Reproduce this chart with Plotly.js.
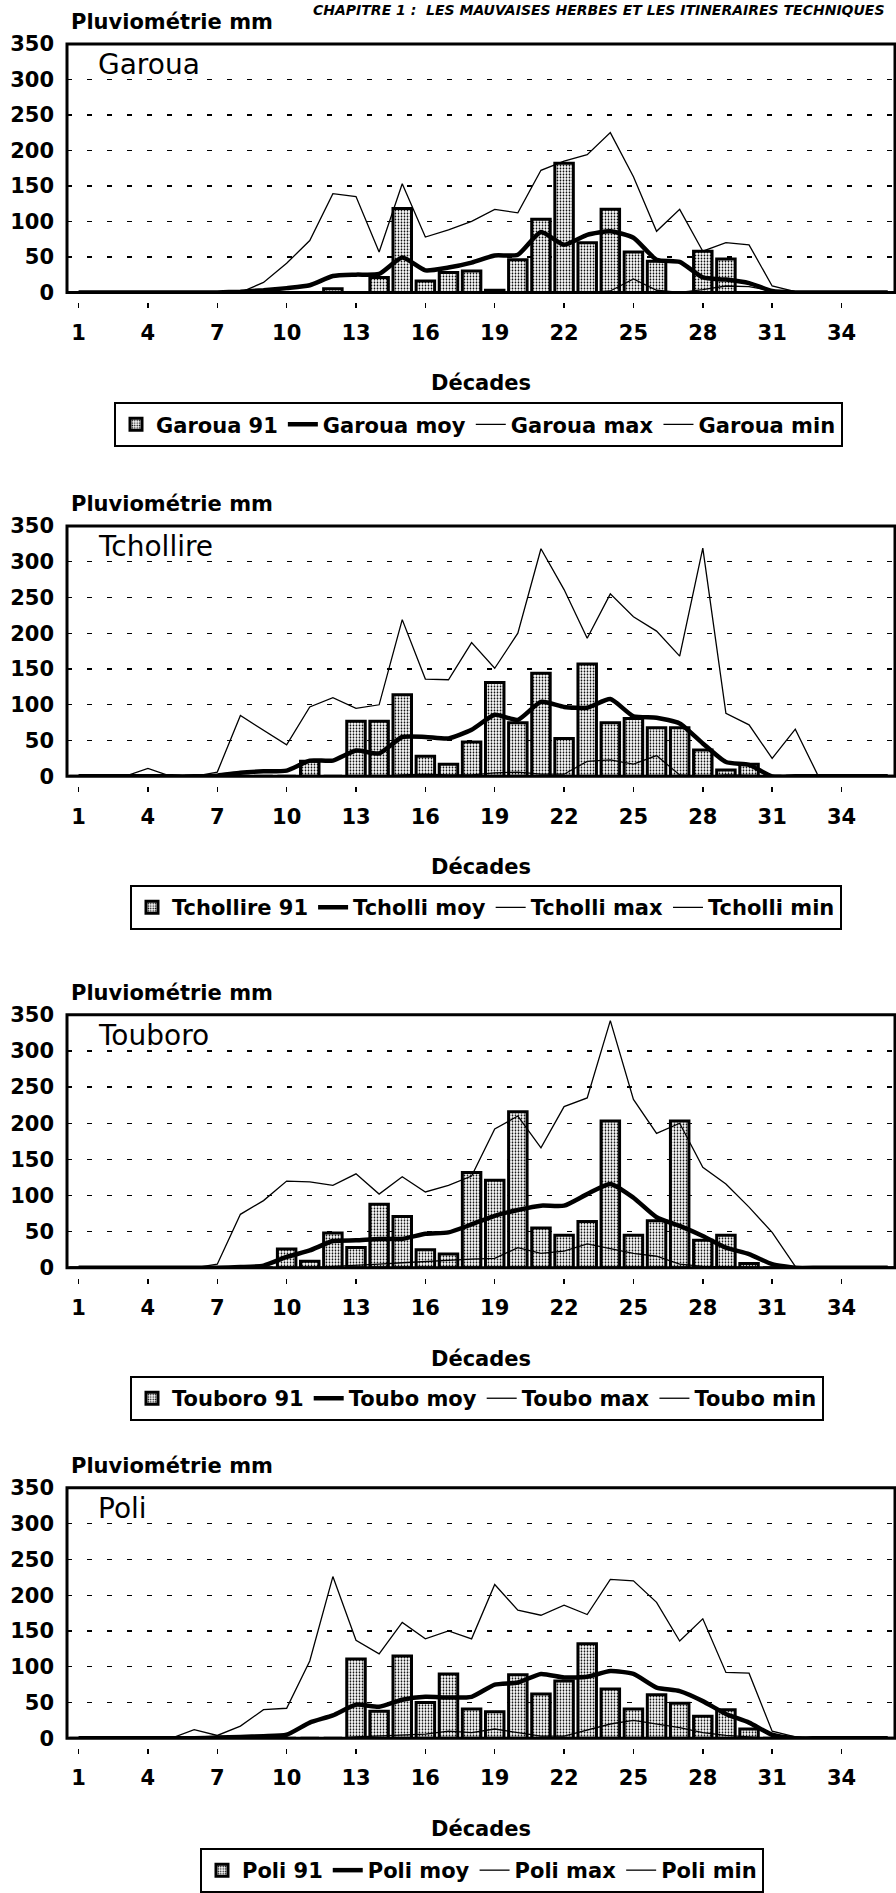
<!DOCTYPE html>
<html><head><meta charset="utf-8">
<script src="https://cdn.plot.ly/plotly-3.0.1.min.js"></script>
<style>html,body{margin:0;padding:0;background:#fff;overflow:hidden;width:896px;height:1893px}#chart{width:896px;height:1893px}</style>
</head><body><div id="chart"></div><script>
// ---------- data ----------
const decades = [1,2,3,4,5,6,7,8,9,10,11,12,13,14,15,16,17,18,19,20,21,22,23,24,25,26,27,28,29,30,31,32,33,34,35,36];
const tickVals = [1,4,7,10,13,16,19,22,25,28,31,34];
const tickText = ['1','4','7','10','13','16','19','22','25','28','31','34'];
const yTickVals = [0,50,100,150,200,250,300,350];
const stations = ['Garoua','Tchollire','Touboro','Poli'];
const names91  = ['Garoua 91','Tchollire 91','Touboro 91','Poli 91'];
const namesMoy = ['Garoua moy','Tcholli moy','Toubo moy','Poli moy'];
const namesMax = ['Garoua max','Tcholli max','Toubo max','Poli max'];
const namesMin = ['Garoua min','Tcholli min','Toubo min','Poli min'];

const garoua91  = [0,0,0,0,0,0,0,0,0,0,0,5,0,21,118,16,28,30,3,46,103,182,70,117,57,44,0,58,47,0,0,0,0,0,0,0];
const garouaMoy = [0,0,0,0,0,0,0,1,3,6,10,23,25,26,49,31,35,42,52,53,85,67,81,86,77,46,43,21,18,13,2,0,0,0,0,0];
const garouaMax = [0,0,0,0,0,0,0,0,14,41,73,139,135,57,153,78,88,100,117,112,172,185,194,225,163,86,117,58,70,67,9,1,0,0,0,0];
const garouaMin = [0,0,0,0,0,0,0,0,0,0,0,0,0,0,0,0,0,0,0,0,0,0,0,2,19,3,0,4,9,8,2,0,0,0,0,0];

const tcholl91  = [0,0,0,0,0,0,0,0,0,0,21,0,77,77,114,28,17,48,131,75,144,53,157,75,81,68,68,37,9,17,0,0,0,0,0,0];
const tchollMoy = [0,0,0,0,0,0,1,5,7,8,22,22,36,32,55,55,53,65,86,79,104,97,96,108,84,82,74,46,20,16,0,0,0,0,0,0];
const tchollMax = [0,0,0,11,0,0,6,85,65,44,97,110,95,100,219,136,135,187,151,200,318,261,193,255,223,203,168,319,88,72,25,66,0,0,0,0];
const tchollMin = [0,0,0,0,0,0,0,0,0,0,0,0,0,0,2,3,2,2,5,6,3,3,21,23,17,29,2,0,2,1,0,0,0,0,0,0];

const toubo91  = [0,0,0,0,0,0,0,0,0,26,9,48,28,88,71,25,19,132,121,216,55,45,64,203,45,65,203,38,45,6,0,0,0,0,0,0];
const touboMoy = [0,0,0,0,0,0,0,1,3,15,24,37,38,40,40,47,49,60,72,80,86,86,102,116,97,70,58,44,28,19,5,0,0,0,0,0];
const touboMax = [0,0,0,0,0,0,5,74,93,120,119,114,130,102,126,105,114,127,192,210,166,223,235,342,233,186,200,139,116,84,49,2,0,0,0,0];
const touboMin = [0,0,0,0,0,0,0,0,0,0,0,2,3,5,7,9,11,12,13,28,20,23,33,26,20,16,5,2,1,0,0,0,0,0,0,0];

const poli91  = [0,0,0,0,0,0,0,0,0,0,0,0,111,38,115,50,90,41,37,89,62,80,132,69,41,61,49,31,40,13,0,0,0,0,0,0];
const poliMoy = [0,0,0,0,0,0,1,2,3,5,22,32,47,44,54,58,57,58,75,78,90,85,86,94,90,71,66,52,34,22,5,0,0,0,0,0];
const poliMax = [0,0,0,0,0,12,4,17,40,42,108,226,137,118,162,139,150,139,215,179,172,186,173,222,220,190,136,167,92,91,10,2,0,0,0,0];
const poliMin = [0,0,0,0,0,0,0,0,0,0,0,0,2,3,4,6,10,8,13,8,3,3,12,20,25,20,15,8,4,2,0,0,0,0,0,0];

const series91  = [garoua91, tcholl91, toubo91, poli91];
const seriesMoy = [garouaMoy, tchollMoy, touboMoy, poliMoy];
const seriesMax = [garouaMax, tchollMax, touboMax, poliMax];
const seriesMin = [garouaMin, tchollMin, touboMin, poliMin];

// ---------- layout geometry (pixels) ----------
const W = 896, H = 1893;
const FONT = 'DejaVu Sans';
const plotLeft = 67, plotRight = 895, bandPx = 23.12;
const geo = [
  {top:44,   bot:293,    legX:114, legTop:403},
  {top:527,  bot:778,    legX:130, legTop:887},
  {top:1017, bot:1270.5, legX:130, legTop:1379},
  {top:1491, bot:1742,   legX:200, legTop:1852}
];
const px = v => v / W;
const py = v => 1 - v / H;

const traces = [];
const layout = {
  width: W, height: H,
  margin: {l:0, r:0, t:0, b:0},
  paper_bgcolor: '#fff', plot_bgcolor: '#fff',
  hovermode: false,
  showlegend: true,
  font: {family: FONT, color: '#000'},
  shapes: [], annotations: []
};

const boldFont = {family: FONT, size: 21, color: '#000', weight: 'bold'};

geo.forEach((g, i) => {
  const s = i === 0 ? '' : String(i + 1);
  const xa = 'x' + s, ya = 'y' + s, lg = 'legend' + s;

  traces.push({
    type: 'bar', x: decades, y: series91[i], name: names91[i],
    xaxis: xa, yaxis: ya, legend: lg, width: 0.8,
    marker: {color: '#fff', line: {color: '#000', width: 3},
      pattern: {shape: '.', fgcolor: '#000', bgcolor: '#fff', size: 3, solidity: 0.28, fillmode: 'replace'}}
  });
  traces.push({
    type: 'scatter', mode: 'lines', x: decades, y: seriesMoy[i], name: namesMoy[i],
    xaxis: xa, yaxis: ya, legend: lg,
    line: {color: '#000', width: 4.5, shape: 'spline', smoothing: 0.55}
  });
  traces.push({
    type: 'scatter', mode: 'lines', x: decades, y: seriesMax[i], name: namesMax[i],
    xaxis: xa, yaxis: ya, legend: lg,
    line: {color: '#000', width: 1.3}
  });
  traces.push({
    type: 'scatter', mode: 'lines', x: decades, y: seriesMin[i], name: namesMin[i],
    xaxis: xa, yaxis: ya, legend: lg,
    line: {color: '#000', width: 1.3}
  });

  layout['xaxis' + s] = {
    domain: [px(plotLeft), px(plotRight)],
    range: [0.5, 0.5 + (plotRight - plotLeft) / bandPx],
    anchor: 'free', position: py(g.bot + 10),
    showline: false, showgrid: false, zeroline: false,
    ticks: 'outside', ticklen: 5, tickwidth: 1.5, tickcolor: '#000',
    tickmode: 'array', tickvals: tickVals, ticktext: tickText,
    tickfont: boldFont, ticklabelstandoff: 6, fixedrange: true
  };
  layout['yaxis' + s] = {
    domain: [py(g.bot), py(g.top)],
    range: [0, 350], anchor: xa,
    tickmode: 'array', tickvals: yTickVals,
    showgrid: true, gridcolor: '#000', gridwidth: 1.3, griddash: '5px,15px',
    zeroline: false, showline: false, ticks: '',
    tickfont: boldFont, ticklabelstandoff: 12, fixedrange: true
  };
  layout[lg] = {
    x: px(g.legX), xanchor: 'left', y: py(g.legTop), yanchor: 'top',
    orientation: 'h', bordercolor: '#000', borderwidth: 2, bgcolor: '#fff',
    font: boldFont, itemwidth: 30, traceorder: 'normal'
  };
  layout.shapes.push({
    type: 'rect', xref: 'paper', yref: 'paper',
    x0: px(plotLeft), x1: px(plotRight), y0: py(g.bot), y1: py(g.top),
    line: {color: '#000', width: 3}, fillcolor: 'rgba(0,0,0,0)', layer: 'above'
  });
  layout.annotations.push({
    text: 'Pluviométrie mm', xref: 'paper', yref: 'paper',
    x: px(69), xanchor: 'left', y: py(g.top - 21.5), yanchor: 'middle',
    showarrow: false, font: boldFont
  });
  layout.annotations.push({
    text: stations[i], xref: 'paper', yref: 'paper',
    x: px(96), xanchor: 'left', y: py(g.top + 21), yanchor: 'middle',
    showarrow: false, font: {family: FONT, size: 28, color: '#000'}
  });
  layout.annotations.push({
    text: 'Décades', xref: 'paper', yref: 'paper',
    x: px((plotLeft + plotRight) / 2), xanchor: 'center', y: py(g.bot + 91), yanchor: 'middle',
    showarrow: false, font: boldFont
  });
});

layout.annotations.push({
  text: '<b><i>CHAPITRE 1 :  LES MAUVAISES HERBES ET LES ITINERAIRES TECHNIQUES</i></b>',
  xref: 'paper', yref: 'paper', x: px(311), xanchor: 'left', y: py(10), yanchor: 'middle',
  showarrow: false, font: {family: FONT, size: 14, color: '#000'}
});

Plotly.newPlot('chart', traces, layout, {displayModeBar: false, staticPlot: true});
</script></body></html>
